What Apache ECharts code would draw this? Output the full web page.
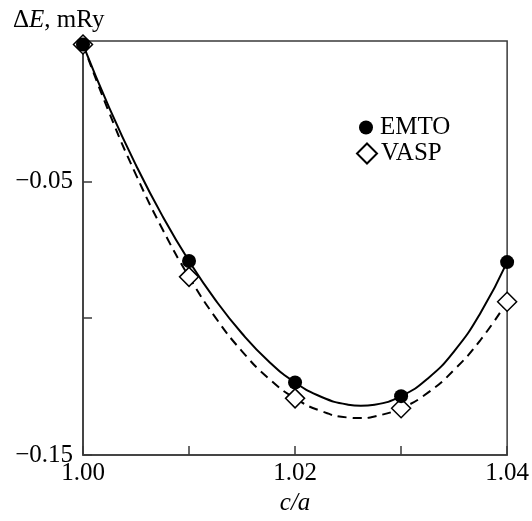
<!DOCTYPE html>
<html>
<head>
<meta charset="utf-8">
<script src="https://cdn.jsdelivr.net/npm/echarts@6/dist/echarts.min.js"></script>
<style>
html,body{margin:0;padding:0;background:#fff;}
#c{width:532px;height:521px;}
</style>
</head>
<body>
<div id="c"></div>
<script>
// Data
var caValues = [1.00, 1.01, 1.02, 1.03, 1.04];
var emtoValues = [0, -0.0791, -0.1235, -0.1285, -0.0795];
var vaspValues = [0, -0.0849, -0.1293, -0.1329, -0.0940];

// Fitted curves
var curveX = [1.0000, 1.0025, 1.0050, 1.0075, 1.0100, 1.0125, 1.0150, 1.0175, 1.0200,
              1.0225, 1.0250, 1.0262, 1.0275, 1.0300, 1.0325, 1.0350, 1.0375, 1.0400];
var emtoCurve = [0, -0.0233, -0.0441, -0.0627, -0.0791, -0.0934, -0.1056, -0.1157, -0.1235,
                 -0.1288, -0.1316, -0.1320, -0.1316, -0.1285, -0.1221, -0.1121, -0.0980, -0.0795];
var vaspCurve = [0, -0.0252, -0.0476, -0.0675, -0.0849, -0.0998, -0.1121, -0.1220, -0.1293,
                 -0.1340, -0.1363, -0.1365, -0.1359, -0.1329, -0.1273, -0.1189, -0.1079, -0.0940];

var xLabels = ['1.00', '1.02', '1.04'];
var yLabels = ['\u22120.05', '\u22120.15'];

function pairs(xs, ys) { return xs.map(function (x, i) { return [x, ys[i]]; }); }

var FONT = 'Liberation Serif';
var AXC = '#3a3a3a';

var chart = echarts.init(document.getElementById('c'));
chart.setOption({
  animation: false,
  backgroundColor: '#fff',
  grid: { left: 83, right: 24, top: 41, bottom: 65, show: true, borderColor: AXC, borderWidth: 1.5, backgroundColor: 'transparent' },
  graphic: [{
    type: 'text', left: 13, top: 8,
    style: {
      text: '{a|\u0394}{b|E}{a|, mRy}',
      rich: {
        a: { fontFamily: FONT, fontSize: 25, fill: '#000' },
        b: { fontFamily: FONT, fontSize: 25, fontStyle: 'italic', fill: '#000' }
      }
    }
  }],
  xAxis: {
    type: 'value', min: 1.00, max: 1.04, interval: 0.01,
    name: 'c/a', nameLocation: 'middle', nameGap: 36,
    nameTextStyle: { fontFamily: FONT, fontSize: 25, fontStyle: 'italic', color: '#000' },
    axisLine: { onZero: false, lineStyle: { color: AXC, width: 1.5 } },
    axisTick: { inside: true, length: 9, lineStyle: { color: AXC, width: 1.5 } },
    splitLine: { show: false },
    axisLabel: {
      fontFamily: FONT, fontSize: 25, color: '#000', margin: 6,
      formatter: function (v) { var s = v.toFixed(2); return xLabels.indexOf(s) >= 0 ? s : ''; }
    }
  },
  yAxis: {
    type: 'value', min: -0.15, max: 0.0013, interval: 0.05,
    axisLine: { onZero: false, lineStyle: { color: AXC, width: 1.5 } },
    axisTick: { inside: true, length: 9, lineStyle: { color: AXC, width: 1.5 } },
    splitLine: { show: false },
    axisLabel: {
      fontFamily: FONT, fontSize: 25, color: '#000', margin: 10, showMaxLabel: false,
      formatter: function (v) {
        var s = '\u2212' + Math.abs(v).toFixed(2);
        return yLabels.indexOf(s) >= 0 ? s : '';
      }
    }
  },
  legend: [{
    data: ['EMTO'], orient: 'vertical', left: 354, top: 110,
    itemWidth: 14, itemHeight: 14,
    textStyle: { fontFamily: FONT, fontSize: 25, color: '#000', padding: [0, 0, 0, 2] }
  }, {
    data: ['VASP'], orient: 'vertical', left: 351, top: 136,
    itemWidth: 20, itemHeight: 20,
    textStyle: { fontFamily: FONT, fontSize: 25, color: '#000', padding: [0, 0, 0, -1] }
  }],
  series: [{
    type: 'line', data: pairs(curveX, emtoCurve), showSymbol: false, smooth: 0.5, z: 2,
    lineStyle: { color: '#000', width: 2 }
  }, {
    type: 'line', data: pairs(curveX, vaspCurve), showSymbol: false, smooth: 0.5, z: 2,
    lineStyle: { color: '#000', width: 2, type: [9, 6] }
  }, {
    name: 'VASP', type: 'scatter', data: pairs(caValues, vaspValues), symbol: 'diamond', symbolSize: 19, z: 3,
    itemStyle: { color: '#fff', borderColor: '#000', borderWidth: 1.5, opacity: 1 }
  }, {
    name: 'EMTO', type: 'scatter', data: pairs(caValues, emtoValues), symbol: 'circle', symbolSize: 14, z: 4,
    itemStyle: { color: '#000', opacity: 1 }
  }]
});
</script>
</body>
</html>
